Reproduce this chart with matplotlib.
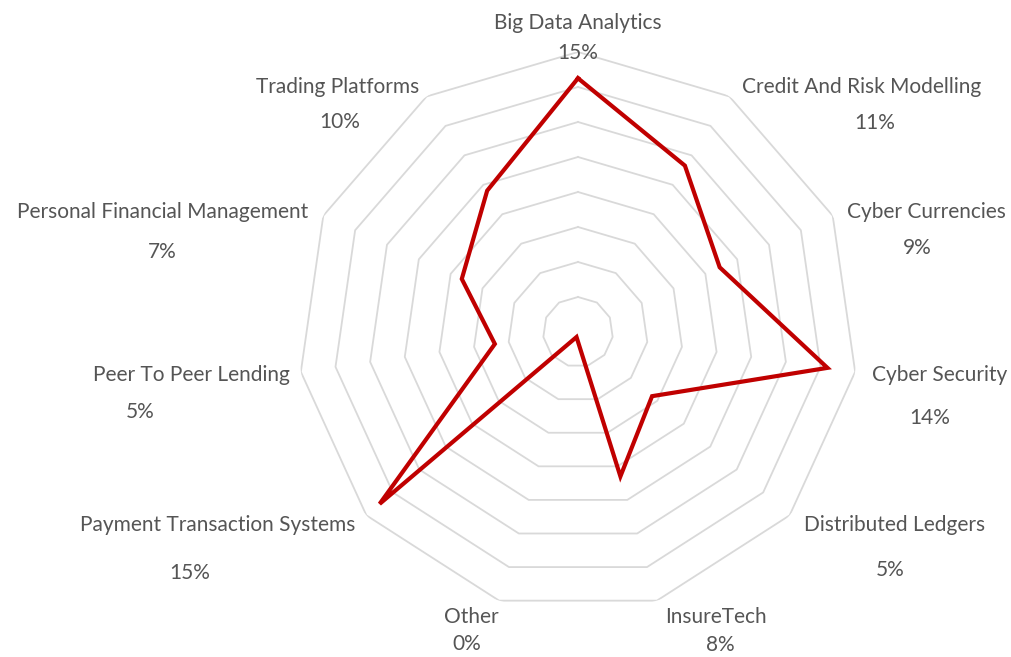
import numpy as np
import matplotlib
matplotlib.use("Agg")
import matplotlib.pyplot as plt

categories = ["Big Data Analytics", "Credit And Risk Modelling", "Cyber Currencies",
              "Cyber Security", "Distributed Ledgers", "InsureTech", "Other",
              "Payment Transaction Systems", "Peer To Peer Lending",
              "Personal Financial Management", "Trading Platforms"]
values = [14.5, 11.3, 8.9, 14.4, 5.6, 8.6, 0.3, 15.0, 4.8, 7.3, 9.6]
pct_labels = ["15%", "11%", "9%", "14%", "5%", "8%", "0%", "15%", "5%", "7%", "10%"]
ring_levels = [2, 4, 6, 8, 10, 12, 14, 16]

W, H = 1011, 657
fig = plt.figure(figsize=(W / 100, H / 100), dpi=100)
fig.patch.set_facecolor("white")

cx, cy, R = 578, 332, 280
ax = fig.add_axes([(cx - R) / W, (H - cy - R) / H, 2 * R / W, 2 * R / H], projection="polar")
ax.set_theta_zero_location("N")
ax.set_theta_direction(-1)
ax.set_ylim(0, 16)
ax.grid(False)
ax.spines["polar"].set_visible(False)
ax.set_xticks([])
ax.set_yticks([])
ax.patch.set_alpha(0)

n = len(categories)
angles = np.linspace(0, 2 * np.pi, n, endpoint=False)
closed = np.concatenate([angles, angles[:1]])

for lv in ring_levels:
    ax.plot(closed, [lv] * (n + 1), color="#d9d9d9", lw=1.3, zorder=1)

vals = np.array(values + values[:1])
ax.plot(closed, vals, color="#c00000", lw=3.0, zorder=3, solid_joinstyle="miter")

# label layout (pixel centres): name, percent
name_pos = [(578, 23), (862, 87), (926, 212), (940, 375), (895, 525), (716, 617),
            (471, 617), (218, 525), (191, 375), (163, 212), (338, 87)]
pct_pos = [(578, 53), (875, 123), (917, 248), (930, 418), (890, 570), (720, 645),
           (467, 644), (190, 573), (140, 412), (162, 252), (340, 122)]

fp = dict(family=["Lato", "DejaVu Sans"], fontsize=15, color="#555555", ha="center", va="center")
for cat, pl, (nx, ny), (px, py) in zip(categories, pct_labels, name_pos, pct_pos):
    fig.text(nx / W, 1 - ny / H, cat, **fp)
    fig.text(px / W, 1 - py / H, pl, **fp)

fig.savefig("out.png", dpi=100, facecolor="white")
